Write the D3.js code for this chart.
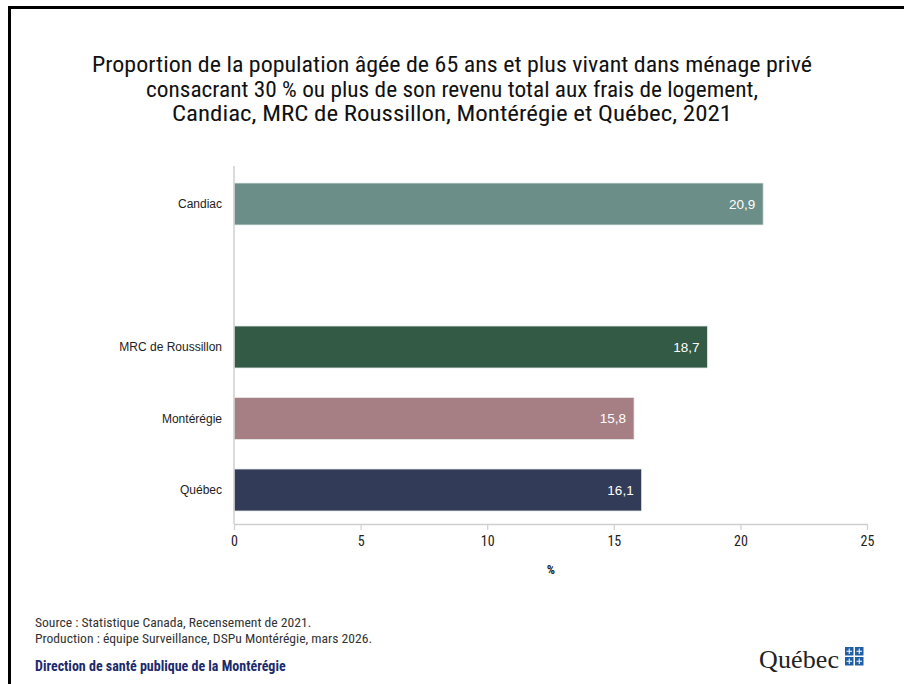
<!DOCTYPE html>
<html><head><meta charset="utf-8">
<script src="https://cdn.jsdelivr.net/npm/d3@7"></script>
<style>body{margin:0;background:#fff;} svg{display:block;}</style>
</head><body>
<script>
const categories = ["Candiac", "", "MRC de Roussillon", "Montérégie", "Québec"];
const values = [20.9, null, 18.7, 15.8, 16.1];
const valueLabels = ["20,9", "", "18,7", "15,8", "16,1"];
const colors = ["#6b8f88", "none", "#325a45", "#a57f84", "#323b57"];
const xTicks = [0, 5, 10, 15, 20, 25];
const titleLines = [
  "Proportion de la population âgée de 65 ans et plus vivant dans ménage privé",
  "consacrant 30 % ou plus de son revenu total aux frais de logement,",
  "Candiac, MRC de Roussillon, Montérégie et Québec, 2021"
];
const footLines = ["Source : Statistique Canada, Recensement de 2021.",
  "Production : équipe Surveillance, DSPu Montérégie, mars 2026."];

const W = 904, H = 684;
const svg = d3.select("body").append("svg").attr("width", W).attr("height", H);
const condensed = "'Liberation Sans Narrow','Roboto Condensed','Arial Narrow',Arial,sans-serif";

// frame
svg.append("path").attr("d", `M9.5,${H+5} L9.5,7.5 L${W+5},7.5`).attr("fill","none").attr("stroke","#000").attr("stroke-width",3);

// title
const titleWidths = [720, 612, 560];
svg.append("g").selectAll("text").data(titleLines).join("text")
  .attr("x", 452).attr("y", (d,i)=>72 + i*24.5)
  .attr("text-anchor","middle").attr("font-family",condensed).attr("font-size",21.5)
  .attr("textLength",(d,i)=>titleWidths[i]).attr("lengthAdjust","spacingAndGlyphs")
  .attr("fill","#111").text(d=>d);

const x = d3.scaleLinear().domain([0,25]).range([234, 867]);
const y = d3.scaleBand().domain(categories.map((c,i)=>i)).range([168.25, 525.75]).paddingInner(0.4126).paddingOuter(0.2063);

// bars
const bars = categories.map((c,i)=>({c, v: values[i], l: valueLabels[i], col: colors[i], i})).filter(d=>d.v!=null);
svg.append("g").selectAll("rect").data(bars).join("rect")
  .attr("x", x(0)).attr("y", d=>y(d.i)).attr("width", d=>x(d.v)-x(0)).attr("height", y.bandwidth())
  .attr("fill", d=>d.col).attr("stroke","#e6ecea").attr("stroke-width",0.8);

svg.append("g").selectAll("text").data(bars).join("text")
  .attr("x", d=>x(d.v)-8).attr("y", d=>y(d.i)+y.bandwidth()/2).attr("dy","0.35em")
  .attr("text-anchor","end").attr("font-family","Arial, 'Liberation Sans', sans-serif").attr("font-size",13.5)
  .attr("fill","#fff").text(d=>d.l);

// category labels
svg.append("g").selectAll("text").data(bars).join("text")
  .attr("x", 222).attr("y", d=>y(d.i)+y.bandwidth()/2).attr("dy","0.35em")
  .attr("text-anchor","end").attr("font-family","Arial, 'Liberation Sans', sans-serif").attr("font-size",12)
  .attr("fill","#222").text(d=>d.c);

// y axis line
svg.append("line").attr("x1",x(0)).attr("x2",x(0)).attr("y1",166).attr("y2",524).attr("stroke","#cfcfcf").attr("stroke-width",1.5);

// x axis
const gx = svg.append("g").attr("transform","translate(0,524)")
  .call(d3.axisBottom(x).tickValues(xTicks).tickSize(6).tickSizeOuter(0).tickFormat(d=>d));
gx.select(".domain").attr("stroke","#cfcfcf").attr("stroke-width",1.5);
gx.selectAll(".tick line").attr("stroke","#cfcfcf").attr("stroke-width",1.2);
gx.selectAll(".tick text").attr("font-family",condensed).attr("font-size",14).attr("fill","#222").attr("dy","0.95em");

svg.append("text").attr("x",551).attr("y",574).attr("text-anchor","middle")
  .attr("font-family",condensed).attr("font-size",13).attr("font-weight","bold").attr("fill","#222").text("%");

// footer
svg.append("g").selectAll("text").data(footLines).join("text")
  .attr("x",35).attr("y",(d,i)=>627+i*16).attr("font-family",condensed).attr("font-size",13.6)
  .attr("fill","#333").text(d=>d);
svg.append("text").attr("x",35).attr("y",671).attr("font-family",condensed).attr("font-size",14)
  .attr("font-weight","bold").attr("fill","#1d2a6b").text("Direction de santé publique de la Montérégie");

// Québec logo
const logo = svg.append("g");
logo.append("text").attr("x",759).attr("y",668).attr("font-family","'Liberation Serif','DejaVu Serif',serif")
  .attr("font-size",26).attr("fill","#222").attr("textLength",80).text("Québec");
const fx = 845, fy = 647, s = 8.5, gap = 1.5;
[[0,0],[1,0],[0,1],[1,1]].forEach(([i,j])=>{
  logo.append("rect").attr("x",fx+i*(s+gap)).attr("y",fy+j*(s+gap)).attr("width",s).attr("height",s).attr("fill","#1f5fa8");
  logo.append("path").attr("d",`M${fx+i*(s+gap)+s/2},${fy+j*(s+gap)+1.5} v${s-3} M${fx+i*(s+gap)+1.5},${fy+j*(s+gap)+s/2} h${s-3}`)
    .attr("stroke","#fff").attr("stroke-width",1);
});
</script>
</body></html>
